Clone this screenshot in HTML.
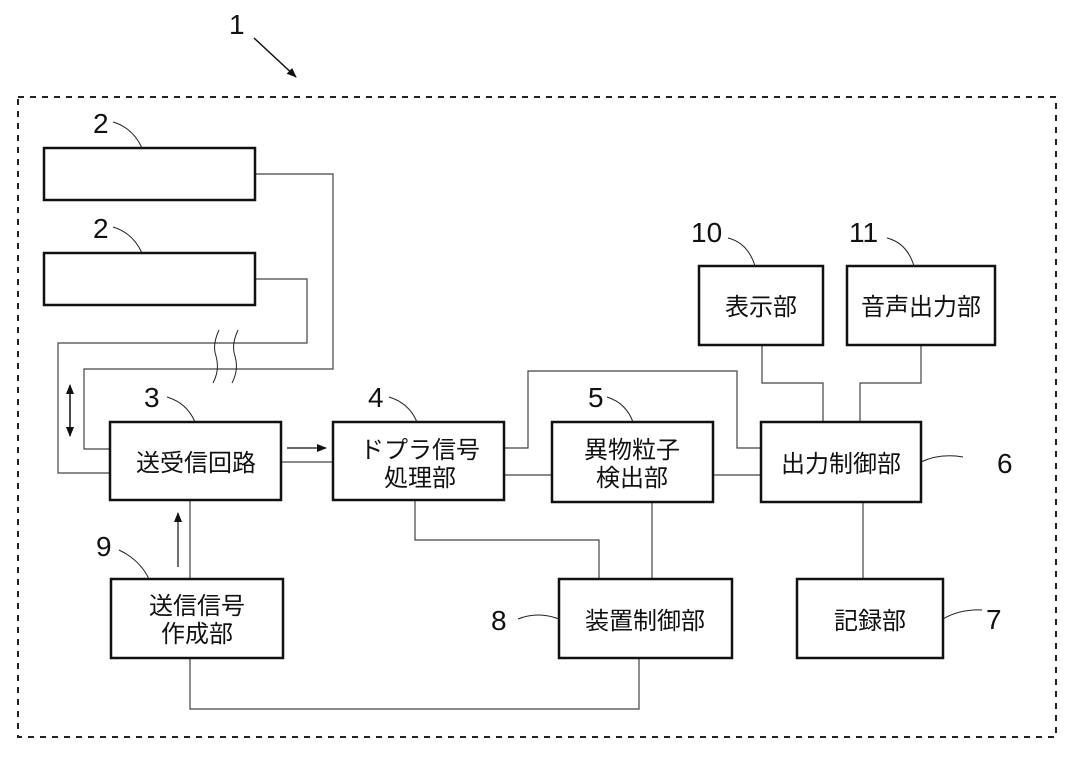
<!DOCTYPE html>
<html><head><meta charset="utf-8"><style>
html,body{margin:0;padding:0;background:#fff;}
svg{display:block;}
text{font-family:"Liberation Sans","Noto Sans CJK JP",sans-serif;fill:#111;}
.b{fill:#fff;stroke:#111;stroke-width:2.5;}
.c{fill:none;stroke:#444;stroke-width:1.2;}
.l{fill:none;stroke:#222;stroke-width:1;}
.n{font-size:28px;}
.t{font-size:24px;text-anchor:middle;}
</style></head><body>
<svg width="1071" height="772" viewBox="0 0 1071 772" xmlns="http://www.w3.org/2000/svg">
<defs><marker id="a" markerWidth="10" markerHeight="8" refX="9" refY="4" orient="auto" markerUnits="userSpaceOnUse"><path d="M0,0 L10,4 L0,8 Z" fill="#111"/></marker></defs>
<rect x="18" y="97" width="1038" height="640" fill="none" stroke="#222" stroke-width="2" stroke-dasharray="6,6"/>
<text x="229" y="34" class="n">1</text>
<line x1="254" y1="38" x2="296" y2="77" stroke="#111" stroke-width="1.5" marker-end="url(#a)"/>
<polyline class="c" points="255,174 333,174 333,369 84,369 84,449 110,449"/>
<polyline class="c" points="255,279 307,279 307,343 58,343 58,473 110,473"/>
<path d="M219,330 Q212,345 216,356 Q220,370 213,383 M238,330 Q231,345 235,356 Q239,370 232,383" class="l" stroke-width="1.3"/>
<line x1="70" y1="387" x2="70" y2="436" stroke="#111" stroke-width="1.3" marker-end="url(#a)"/>
<line x1="70" y1="436" x2="70" y2="385" stroke="#111" stroke-width="1.3" marker-end="url(#a)"/>
<line x1="287" y1="448" x2="326" y2="448" stroke="#111" stroke-width="1.2" marker-end="url(#a)"/>
<line class="c" x1="281" y1="462" x2="333" y2="462"/>
<polyline class="c" points="504,448 528,448 528,371 737,371 737,448 761,448"/>
<line class="c" x1="504" y1="475" x2="552" y2="475"/>
<line class="c" x1="713" y1="475" x2="761" y2="475"/>
<polyline class="c" points="762,345 762,383 823,383 823,422"/>
<polyline class="c" points="921,345 921,383 860,383 860,422"/>
<line class="c" x1="863" y1="502" x2="863" y2="579"/>
<line class="c" x1="190" y1="500" x2="190" y2="579"/>
<line x1="178" y1="567" x2="178" y2="513" stroke="#111" stroke-width="1.2" marker-end="url(#a)"/>
<polyline class="c" points="415,500 415,540 599,540 599,579"/>
<line class="c" x1="652" y1="502" x2="652" y2="579"/>
<polyline class="c" points="190,658 190,709 639,709 639,658"/>
<rect class="b" x="44" y="148" width="211" height="52"/>
<rect class="b" x="44" y="253" width="211" height="52"/>
<rect class="b" x="110" y="422" width="171" height="78"/>
<rect class="b" x="333" y="422" width="171" height="78"/>
<rect class="b" x="552" y="422" width="161" height="80"/>
<rect class="b" x="761" y="422" width="160" height="80"/>
<rect class="b" x="699" y="266" width="124" height="79"/>
<rect class="b" x="847" y="266" width="148" height="79"/>
<rect class="b" x="111" y="579" width="172" height="79"/>
<rect class="b" x="559" y="579" width="173" height="79"/>
<rect class="b" x="797" y="579" width="146" height="79"/>
<text x="196" y="471" class="t">送受信回路</text>
<text x="420" y="458" class="t">ドプラ信号</text>
<text x="420" y="486" class="t">処理部</text>
<text x="632" y="458" class="t">異物粒子</text>
<text x="632" y="486" class="t">検出部</text>
<text x="841" y="472" class="t">出力制御部</text>
<text x="761" y="315" class="t">表示部</text>
<text x="921" y="315" class="t">音声出力部</text>
<text x="197" y="614" class="t">送信信号</text>
<text x="197" y="642" class="t">作成部</text>
<text x="645" y="629" class="t">装置制御部</text>
<text x="870" y="629" class="t">記録部</text>
<text x="93" y="133" class="n">2</text>
<path class="l" d="M113,122 Q133,128 142,148"/>
<text x="93" y="238" class="n">2</text>
<path class="l" d="M113,227 Q133,233 142,253"/>
<text x="144" y="407" class="n">3</text>
<path class="l" d="M167,397 Q187,403 195,422"/>
<text x="368" y="407" class="n">4</text>
<path class="l" d="M389,397 Q409,403 417,422"/>
<text x="588" y="407" class="n">5</text>
<path class="l" d="M607,397 Q626,403 633,422"/>
<text x="691" y="242" class="n">10</text>
<path class="l" d="M728,238 Q748,243 755,266"/>
<text x="849" y="242" class="n">11</text>
<path class="l" d="M887,238 Q907,243 914,266"/>
<text x="997" y="473" class="n">6</text>
<path class="l" d="M921,462 Q940,453 963,457"/>
<text x="96" y="556" class="n">9</text>
<path class="l" d="M119,550 Q140,560 149,579"/>
<text x="491" y="630" class="n">8</text>
<path class="l" d="M518,619 Q538,611 559,619"/>
<text x="986" y="629" class="n">7</text>
<path class="l" d="M943,619 Q960,609 982,610"/>
</svg>
</body></html>
